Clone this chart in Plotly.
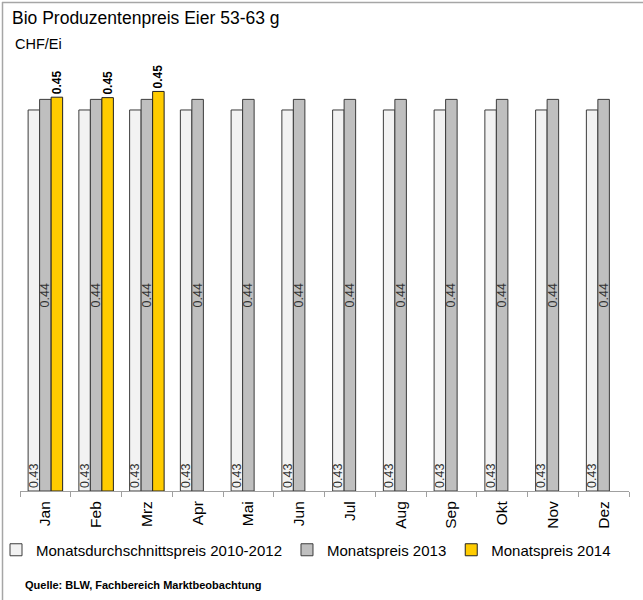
import plotly.graph_objects as go

months = ["Jan", "Feb", "Mrz", "Apr", "Mai", "Jun", "Jul", "Aug", "Sep", "Okt", "Nov", "Dez"]
avg_2010_2012 = [0.432, 0.432, 0.432, 0.432, 0.432, 0.432, 0.432, 0.432, 0.432, 0.432, 0.432, 0.432]
price_2013 = [0.444, 0.444, 0.444, 0.444, 0.444, 0.444, 0.444, 0.444, 0.444, 0.444, 0.444, 0.444]
price_2014 = [0.4465, 0.446, 0.453, None, None, None, None, None, None, None, None, None]

FONT = "Liberation Sans, Arial, sans-serif"
OUTLINE = "#3c3c3c"

fig = go.Figure()
fig.add_trace(go.Bar(
    name="Monatsdurchschnittspreis 2010-2012", x=months, y=avg_2010_2012,
    marker=dict(color="#F2F2F2", line=dict(color=OUTLINE, width=1)),
    texttemplate="%{y:.2f}", textposition="inside", insidetextanchor="start",
    textangle=-90, constraintext="none",
    insidetextfont=dict(size=12.5, color="#333333", family=FONT),
))
fig.add_trace(go.Bar(
    name="Monatspreis 2013", x=months, y=price_2013,
    marker=dict(color="#BFBFBF", line=dict(color=OUTLINE, width=1)),
    texttemplate="%{y:.2f}", textposition="inside", insidetextanchor="middle",
    textangle=-90, constraintext="none",
    insidetextfont=dict(size=12.5, color="#333333", family=FONT),
))
fig.add_trace(go.Bar(
    name="Monatspreis 2014", x=months, y=price_2014,
    marker=dict(color="#FFCC00", line=dict(color="#222222", width=1)),
    texttemplate="<b>%{y:.2f}</b>", textposition="outside",
    textangle=-90, constraintext="none", cliponaxis=False,
    outsidetextfont=dict(size=12, color="#000000", family=FONT),
))

L, R, T, B = 20, 14, 50, 109
W, H = 643, 600
pw, ph = W - L - R, H - T - B

def px_x(p):
    return (p - L) / pw

def px_y(p):
    return (H - B - p) / ph

fig.update_layout(
    width=W, height=H,
    margin=dict(l=L, r=R, t=T, b=B, autoexpand=False),
    paper_bgcolor="white", plot_bgcolor="white",
    font=dict(family=FONT, color="#000000"),
    barmode="group", bargap=0.32, bargroupgap=0,
    showlegend=True,
    legend=dict(orientation="h", x=px_x(-4), xanchor="left", y=px_y(550), yanchor="middle",
                font=dict(size=15, family=FONT), itemwidth=30, traceorder="normal",
                bgcolor="rgba(0,0,0,0)"),
    xaxis=dict(showline=True, linecolor="#A0A0A0", linewidth=1, ticks="outside",
               tickson="boundaries", ticklen=5, tickcolor="#A0A0A0", tickangle=-90,
               ticklabelstandoff=3,
               tickfont=dict(size=15.5, color="#000000", family=FONT), showgrid=False),
    yaxis=dict(range=[0, 0.5], visible=False, showgrid=False, zeroline=False),
    annotations=[
        dict(text="Bio Produzentenpreis Eier 53-63 g", xref="paper", yref="paper",
             x=px_x(10), y=px_y(18), xanchor="left", yanchor="middle", showarrow=False,
             font=dict(size=17.5, family=FONT, color="#000000")),
        dict(text="CHF/Ei", xref="paper", yref="paper",
             x=px_x(13), y=px_y(44), xanchor="left", yanchor="middle", showarrow=False,
             font=dict(size=14.5, family=FONT, color="#000000")),
        dict(text="<b>Quelle: BLW, Fachbereich Marktbeobachtung</b>", xref="paper", yref="paper",
             x=px_x(23), y=px_y(585), xanchor="left", yanchor="middle", showarrow=False,
             font=dict(size=11, family=FONT, color="#000000")),
    ],
    shapes=[
        dict(type="line", xref="paper", yref="paper", x0=px_x(2), x1=px_x(650),
             y0=px_y(2.5), y1=px_y(2.5), line=dict(color="#A6A6A6", width=1.5)),
        dict(type="line", xref="paper", yref="paper", x0=px_x(2.5), x1=px_x(2.5),
             y0=px_y(2), y1=px_y(605), line=dict(color="#A6A6A6", width=1.5)),
    ],
)

fig.write_html("out.html", config={"displayModeBar": False},
               post_script="document.body.style.margin='0px';")
